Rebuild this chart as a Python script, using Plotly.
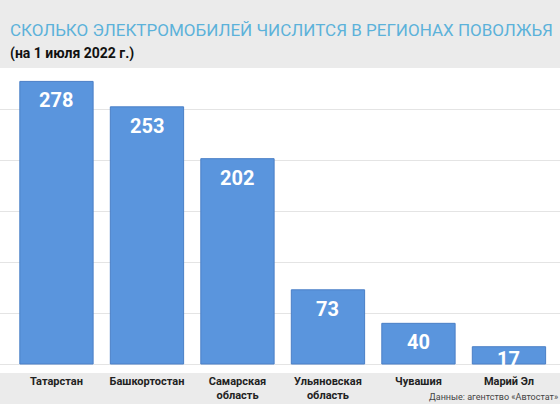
import plotly.graph_objects as go

regions = ['Татарстан', 'Башкортостан', 'Самарская<br>область', 'Ульяновская<br>область', 'Чувашия', 'Марий Эл']
cars = [278, 253, 202, 73, 40, 17]

title_text = 'СКОЛЬКО ЭЛЕКТРОМОБИЛЕЙ ЧИСЛИТСЯ В РЕГИОНАХ ПОВОЛЖЬЯ'
subtitle_text = '(на 1 июля 2022 г.)'
source_text = 'Данные: агентство «Автостат»'

font_main = 'Roboto, Liberation Sans, sans-serif'

fig = go.Figure()
fig.add_trace(go.Bar(
    x=regions, y=cars,
    marker=dict(color='#5a95dd', line=dict(color='#4a7fc6', width=1)),
    width=0.81,
    hoverinfo='skip',
))

# value labels near the top of each bar (short bar: label sits a bit higher)
for r, v in zip(regions, cars):
    fig.add_annotation(x=r, y=v, text='<b>%d</b>' % v, showarrow=False,
                       yanchor='top', yshift=-5 if v > 30 else 2,
                       font=dict(family=font_main, size=20, color='white'))

fig.add_annotation(xref='paper', yref='paper', x=0, y=1, xanchor='left', yanchor='bottom',
                   xshift=8, yshift=26, text=title_text, showarrow=False,
                   font=dict(family=font_main, size=17, color='#5cb2da'))
fig.add_annotation(xref='paper', yref='paper', x=0, y=1, xanchor='left', yanchor='bottom',
                   xshift=8, yshift=4, text='<b>' + subtitle_text + '</b>', showarrow=False,
                   font=dict(family=font_main, size=14, color='#111111'))
fig.add_annotation(xref='paper', yref='paper', x=1, y=0, xanchor='right', yanchor='top',
                   yshift=-17, text=source_text, showarrow=False,
                   font=dict(family=font_main, size=9, color='#444444'))

fig.update_layout(
    width=560, height=404,
    margin=dict(l=0, r=0, t=68, b=31),
    paper_bgcolor='#ebebeb', plot_bgcolor='white',
    showlegend=False,
    xaxis=dict(type='category', range=[-0.624, 5.564], showgrid=False, ticks='',
               tickfont=dict(family=font_main, size=11, color='#222222', weight='bold')),
    yaxis=dict(range=[-8.85, 291.2], tick0=0, dtick=50, showticklabels=False,
               gridcolor='#e4e4e4', gridwidth=1, zeroline=False),
)

fig.write_html('out.html', config={'displayModeBar': False},
               post_script="document.body.style.margin='0';")
